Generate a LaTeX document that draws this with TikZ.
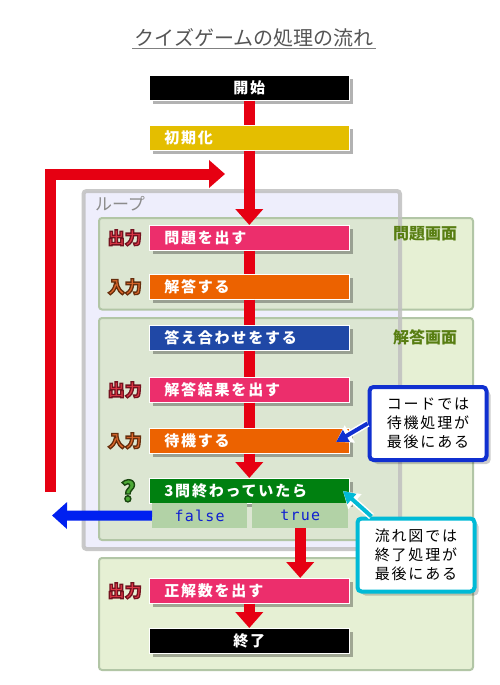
\documentclass[tikz,border=0pt]{standalone}
\usepackage{fontspec}
\usetikzlibrary{arrows.meta,shadows,calc}

\newfontfamily\jpfont[LetterSpace=12]{Noto Sans CJK JP}
\newfontfamily\jptitle{Noto Sans CJK JP}
\newfontfamily\codefont[LetterSpace=8]{DejaVu Sans Mono}

% text with a coloured edge: #1 = stroke rgb, #2 = width, #3 = text
\newcommand\edgetext[3]{\special{pdf:literal direct 2 Tr #2 w #1 RG}#3\special{pdf:literal direct 0 Tr}}

\definecolor{boxpink}{RGB}{236,46,108}
\definecolor{boxorange}{RGB}{236,98,0}
\definecolor{boxblue}{RGB}{32,72,166}
\definecolor{boxyellow}{RGB}{228,190,0}
\definecolor{boxgreen}{RGB}{0,128,16}
\definecolor{flowred}{RGB}{230,0,18}
\definecolor{flowblue}{RGB}{0,32,240}
\definecolor{branchfill}{RGB}{178,210,166}
\definecolor{branchtext}{RGB}{16,32,208}
\definecolor{loopfill}{RGB}{238,238,252}
\definecolor{loopline}{RGB}{192,192,192}
\definecolor{screenfill}{RGB}{200,222,160}
\definecolor{screenline}{RGB}{178,198,166}
\definecolor{screentext}{RGB}{88,126,18}
\definecolor{outred}{RGB}{222,56,72}
\definecolor{inorange}{RGB}{222,104,44}
\definecolor{askgreen}{RGB}{76,168,54}
\definecolor{notebl}{RGB}{16,48,208}
\definecolor{notecyan}{RGB}{0,186,214}
\definecolor{titlegray}{RGB}{85,85,85}

\tikzset{
  procbox/.style={anchor=north west, minimum height=25pt, text width=170pt,
    inner xsep=15pt, inner ysep=0pt, align=left, text=white,
    font=\jpfont\bfseries\fontsize{15}{15}\selectfont, draw=white, line width=0.6pt,
    drop shadow={shadow xshift=4pt, shadow yshift=-4pt, fill=black, opacity=0.3}},
  endbox/.style={procbox, align=center, fill=black},
  branchbox/.style={anchor=north west, minimum height=25pt, minimum width=95pt,
    inner sep=0pt, fill=branchfill, text=branchtext,
    font=\codefont\fontsize{15}{15}\selectfont},
  redflow/.style={draw=flowred, line width=11pt},
  redarrow/.style={redflow, -{Triangle[width=27pt,length=16pt]}},
  screenbox/.style={fill=screenfill, fill opacity=0.45, draw=screenline,
    line width=2pt, rounded corners=3pt},
  tagtext/.style={anchor=east, inner sep=0pt,
    font=\jptitle\bfseries\fontsize{17}{17}\selectfont},
  screenlabel/.style={inner sep=0pt, text=screentext,
    font=\jptitle\bfseries\fontsize{16}{16}\selectfont},
  notebox/.style={fill=white, line width=4pt, rounded corners=4pt,
    minimum width=117pt, minimum height=73pt, align=center, inner sep=0pt,
    font=\jpfont\fontsize{15}{19}\selectfont,
    drop shadow={shadow xshift=4pt, shadow yshift=-4pt, fill=black, opacity=0.2}},
  notearrow/.style={line width=4pt, -{Triangle[width=13pt,length=12pt]}},
  noteedge/.style={draw=white, line width=7pt, -{Triangle[width=19pt,length=16pt]}},
}

\begin{document}
\begin{tikzpicture}[x=1pt,y=-1pt]

\useasboundingbox (0,0) rectangle (500,685);
\fill[white] (0,0) rectangle (500,685);

% title
\node[font=\jptitle\fontsize{20}{20}\selectfont, text=titlegray, inner sep=1pt] (title) at (254,38) {クイズゲームの処理の流れ};
\draw[titlegray!75, line width=1.5pt, shorten <=-1pt, shorten >=-1pt] (title.south west)--(title.south east);

% loop and screens
\fill[loopfill, rounded corners=3pt] (83.5,191) rectangle (400,549);
\draw[screenbox] (99,218) rectangle (473,309.5);
\draw[screenbox] (99,318) rectangle (473,540);
\draw[screenbox] (99,558) rectangle (473,670);
\draw[loopline, line width=4pt, rounded corners=3pt, draw opacity=0.85] (83.5,191) rectangle (400,549);

\node[font=\jptitle\fontsize{17}{17}\selectfont, text=black!45, inner sep=0pt] (looplabel) at (120,204) {ループ};
\node[screenlabel] (scrq) at (425,234) {問題画面};
\node[screenlabel] (scra) at (425,337) {解答画面};

% steps
\node[endbox] (start) at (149,75) {開始};
\node[procbox, fill=boxyellow] (init) at (149,125) {初期化};
\node[procbox, fill=boxpink] (quest) at (149,225) {問題を出す};
\node[procbox, fill=boxorange] (answer) at (149,274) {解答する};
\node[procbox, fill=boxblue] (check) at (149,325) {答え合わせをする};
\node[procbox, fill=boxpink] (result) at (149,377) {解答結果を出す};
\node[procbox, fill=boxorange] (wait) at (149,428) {待機する};
\node[procbox, fill=boxgreen] (cond) at (149,478) {3問終わっていたら};
\node[branchbox] (brfalse) at (152,503) {false};
\node[branchbox, minimum width=96pt] (brtrue) at (252,503) {true};
\node[procbox, fill=boxpink] (score) at (149,578) {正解数を出す};
\node[endbox] (stop) at (149,628) {終了};

% tags
\node[tagtext, text=outred] (tagq) at ([xshift=-7pt]quest.west) {\edgetext{0.45 0.07 0.12}{1.3}{出力}};
\node[tagtext, text=inorange] (taga) at ([xshift=-7pt]answer.west) {\edgetext{0.4 0.18 0.05}{1.3}{入力}};
\node[tagtext, text=outred] (tagr) at ([xshift=-7pt]result.west) {\edgetext{0.45 0.07 0.12}{1.3}{出力}};
\node[tagtext, text=inorange] (tagw) at ([xshift=-7pt]wait.west) {\edgetext{0.4 0.18 0.05}{1.3}{入力}};
\node[tagtext, text=askgreen, font=\jptitle\bfseries\fontsize{28}{28}\selectfont] (tagc) at ([xshift=-13pt]cond.west) {\edgetext{0.1 0.28 0.06}{1.4}{?}};
\node[tagtext, text=outred] (tags) at ([xshift=-7pt]score.west) {\edgetext{0.45 0.07 0.12}{1.3}{出力}};

% flow
\coordinate (loopstart) at (50,492);
\coordinate (loopend) at (225,174);
\coordinate (falseend) at (52,515.5);

\draw[redflow] (start)--(init);
\draw[redarrow] (init)--(quest);
\draw[redflow] (quest)--(answer);
\draw[redflow] (answer)--(check);
\draw[redflow] (check)--(result);
\draw[redflow] (result)--(wait);
\draw[redarrow] (wait)--(cond);
\draw[redarrow] (brtrue.south)--(brtrue.south |- score.north);
\draw[redarrow] (score)--(stop);
\draw[redarrow, line join=miter] (loopstart) |- (loopend);
\draw[draw=flowblue, line width=10pt, -{Triangle[width=26pt,length=15pt]}] (brfalse.west)--(falseend);

% notes
\node[notebox, draw=notebl] (note1) at (428,423.5) {コードでは\\待機処理が\\最後にある};
\node[notebox, draw=notecyan] (note2) at (416,555) {流れ図では\\終了処理が\\最後にある};

\coordinate (tip1) at (336,442);
\coordinate (tip2) at (343,491);
\draw[noteedge] (note1.west)--(tip1);
\draw[notearrow, draw=notebl, fill=notebl] (note1.west)--(tip1);
\draw[noteedge] ($(note2.north west)+(16,0)$)--(tip2);
\draw[notearrow, draw=notecyan, fill=notecyan] ($(note2.north west)+(16,0)$)--(tip2);
\end{tikzpicture}
\end{document}
